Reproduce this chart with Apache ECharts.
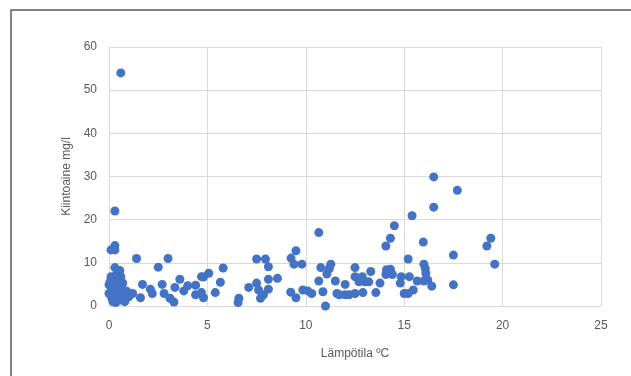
<!DOCTYPE html>
<html>
<head>
<meta charset="utf-8">
<script src="https://cdn.jsdelivr.net/npm/echarts@6/dist/echarts.min.js"></script>
<style>
  html, body { margin: 0; padding: 0; background: #fff; }
  #chart { width: 631px; height: 376px; }
</style>
</head>
<body>
<div id="chart"></div>
<script>
// lämpötila (°C) ja kiintoaine (mg/l), luettu kuvasta
const tempC = [
  0.6, 0.3, 0.3, 0.1, 0.3, 1.4, 3.0, 2.5, 2.7, 1.7, 2.1, 2.2, 1.2, 1.6, 0.8,
  3.3, 3.1, 2.8, 3.35, 3.6, 3.8, 4.0, 4.4, 4.4, 4.7, 4.7, 4.8, 5.07, 5.4, 5.66,
  5.8, 6.56, 6.6, 7.1, 7.5, 7.5, 7.6, 7.7, 7.85, 7.95, 8.1, 8.1, 8.1, 8.56, 9.25,
  9.23, 9.5, 9.4, 9.5, 9.8, 9.85, 10.1, 10.3, 10.66, 10.66, 10.76, 10.87, 11.0, 11.07, 11.2,
  11.27, 11.5, 11.58, 11.7, 12.0, 12.0, 12.2, 12.5, 12.5, 12.5, 12.7, 12.87, 12.9, 13.0, 13.2,
  13.3, 13.56, 13.77, 14.07, 14.3, 14.5, 14.07, 14.1, 14.3, 14.4, 14.8, 14.85, 15.0, 15.2, 15.2,
  15.26, 15.4, 15.46, 15.66, 15.97, 16.0, 16.07, 16.1, 16.2, 16.0, 16.4, 16.5, 16.5, 17.5, 17.5,
  17.7, 19.2, 19.4, 19.6,
  0.1, 0.3, 0.55, 0.6, 0.0, 0.0, 0.15, 0.35, 0.65, 0.75, 0.65, 0.35, 0.45, 0.25, 0.85,
  0.95, 0.55, 0.7, 0.15, 0.05, 0.5, 0.2, 4.8, 0.4, 0.9, 1.0
];
const solids = [
  54, 22, 14, 13, 13, 11, 11, 9, 5, 5, 3.9, 2.9, 2.9, 1.9, 1.0,
  0.9, 1.8, 2.9, 4.3, 6.2, 3.5, 4.7, 4.8, 2.6, 6.8, 3.1, 1.9, 7.6, 3.1, 5.5,
  8.8, 0.8, 1.8, 4.3, 10.9, 5.3, 3.7, 1.8, 2.6, 10.9, 9.1, 6.2, 3.9, 6.4, 11.1,
  3.2, 12.8, 9.7, 1.9, 9.7, 3.7, 3.5, 2.9, 17.0, 5.8, 8.9, 3.3, 0.0, 7.4, 8.7,
  9.7, 5.8, 2.9, 2.6, 5.0, 2.6, 2.6, 8.9, 6.8, 2.9, 5.6, 6.8, 3.1, 5.6, 5.6,
  8.0, 3.1, 5.3, 13.9, 15.7, 18.6, 7.3, 8.4, 8.5, 7.3, 5.3, 6.8, 2.9, 2.9, 10.9,
  6.8, 20.9, 3.7, 5.8, 14.8, 9.7, 8.7, 7.6, 6.0, 5.8, 4.6, 29.9, 22.9, 11.8, 4.9,
  26.8, 13.9, 15.7, 9.7,
  6.8, 8.9, 8.2, 6.8, 4.9, 2.9, 1.8, 0.8, 1.4, 2.9, 4.5, 5.6, 3.7, 2.6, 1.8,
  2.3, 5.9, 5.3, 3.9, 5.6, 1.8, 1.0, 6.7, 7.5, 3.4, 2.1
];
const xTicks = { min: 0, max: 25, interval: 5 };
const yTicks = { min: 0, max: 60, interval: 10 };

const chart = echarts.init(document.getElementById('chart'));

const gridColor = '#d9d9d9';
const labelColor = '#595959';
const font = "'Liberation Sans', Arial, sans-serif";

chart.setOption({
  animation: false,
  graphic: [
    {
      type: 'rect',
      shape: { x: 11, y: 10, width: 700, height: 500 },
      style: { fill: 'none', stroke: '#5a5a5a', lineWidth: 1.5 },
      silent: true
    }
  ],
  grid: { left: 109, right: 30, top: 47, bottom: 70 },
  xAxis: {
    type: 'value',
    min: xTicks.min,
    max: xTicks.max,
    interval: xTicks.interval,
    name: 'Lämpötila ºC',
    nameLocation: 'middle',
    nameGap: 42,
    nameTextStyle: { color: labelColor, fontSize: 12, fontFamily: font },
    axisLine: { show: true, lineStyle: { color: gridColor } },
    axisTick: { show: false },
    axisLabel: { color: labelColor, fontSize: 12, fontFamily: font, margin: 14 },
    splitLine: { show: true, lineStyle: { color: gridColor, width: 1 } }
  },
  yAxis: {
    type: 'value',
    min: yTicks.min,
    max: yTicks.max,
    interval: yTicks.interval,
    name: 'Kiintoaine mg/l',
    nameLocation: 'middle',
    nameGap: 36,
    nameTextStyle: { color: labelColor, fontSize: 12, fontFamily: font },
    axisLine: { show: true, lineStyle: { color: gridColor } },
    axisTick: { show: false },
    axisLabel: { color: labelColor, fontSize: 12, fontFamily: font, margin: 12 },
    splitLine: { show: true, lineStyle: { color: gridColor, width: 1 } }
  },
  series: [
    {
      type: 'scatter',
      symbolSize: 9,
      itemStyle: { color: '#4472c4', opacity: 1 },
      data: tempC.map((t, i) => [t, solids[i]])
    }
  ]
});
</script>
</body>
</html>
